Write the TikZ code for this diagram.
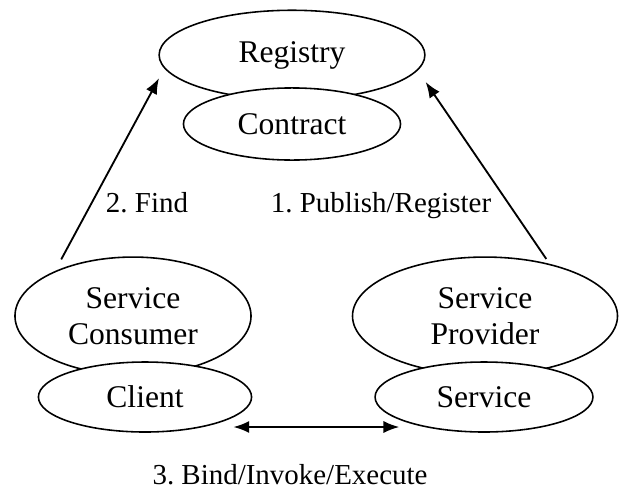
\documentclass[tikz,border=0pt]{standalone}
\usepackage{fontspec}
\setmainfont{Liberation Serif}
\usetikzlibrary{shapes,arrows.meta,calc}

\begin{document}
\frenchspacing
\begin{tikzpicture}[x=0.38pt,y=-0.38pt]

    \tikzstyle{oval}=[draw, ellipse, fill=white, line width=0.6pt, inner sep=0pt, align=center, font=\fontsize{12}{13.8}\selectfont]
    \tikzstyle{lbl}=[anchor=base, font=\fontsize{11}{13}\selectfont]
    \tikzstyle{link}=[line width=0.7pt]

    \useasboundingbox (0,0) rectangle (619,488);

    \begin{scope}[>={Latex[length=6pt,width=4.6pt]}]

      \node (registry) at (292,55)[oval, minimum width=101pt, minimum height=34pt]{Registry};
      \node (contract) at (292,124)[oval, minimum width=82.5pt, minimum height=27.4pt]{Contract};

      \node (consumer) at (133,316)[oval, minimum width=89.7pt, minimum height=44.8pt]{Service\\Consumer};
      \node (client) at (145,397)[oval, minimum width=81pt, minimum height=26.6pt]{Client};

      \node (provider) at (485,316)[oval, minimum width=100.7pt, minimum height=44.8pt]{Service\\Provider};
      \node (service) at (484,397)[oval, minimum width=82.8pt, minimum height=26.6pt]{Service};

      \draw[link,->,shorten <=5pt,shorten >=4.2pt] (consumer.150) -- (registry.186);
      \draw[link,->,shorten <=2.2pt,shorten >=5.3pt] (provider.39) -- (registry.353);
      \draw[link,<->] ([xshift=-7.2pt,yshift=-11.4pt]client.east) -- ([xshift=9.5pt,yshift=-11.4pt]service.west);

      \node (findLbl) at (147,212)[lbl]{2. Find};
      \node (publishLbl) at (381,212)[lbl]{1. Publish/Register};
      \node (bindLbl) at (290,484)[lbl]{3. Bind/Invoke/Execute};

    \end{scope}
\end{tikzpicture}
\end{document}
